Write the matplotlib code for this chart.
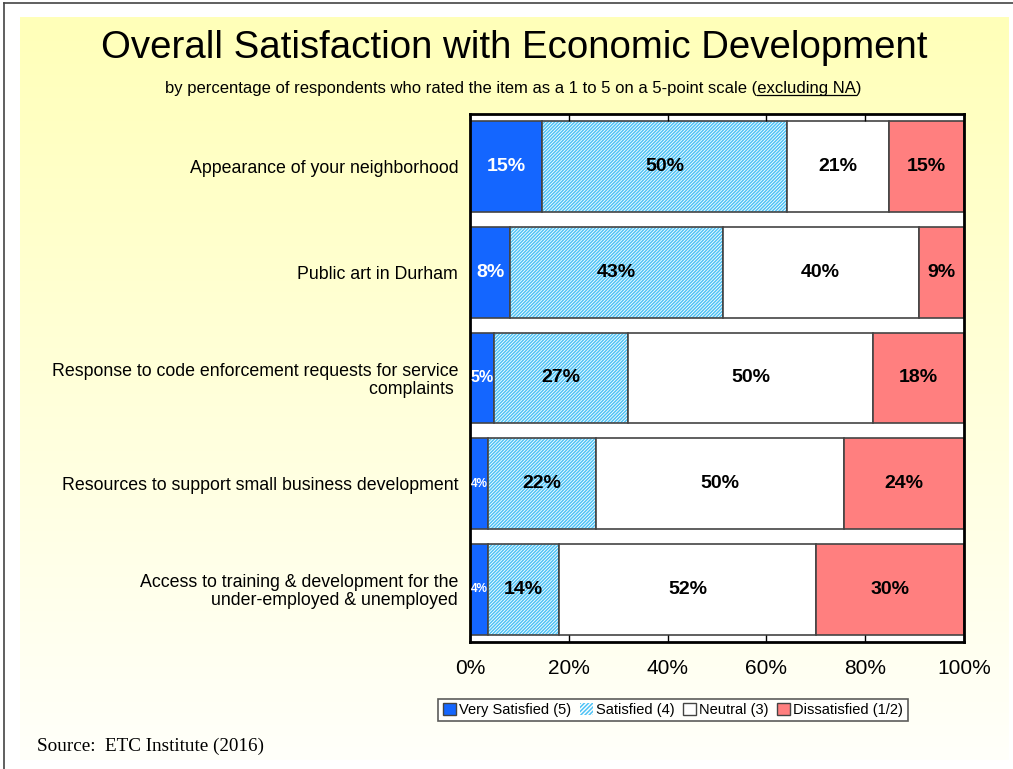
import numpy as np
import matplotlib
matplotlib.use("Agg")
import matplotlib.pyplot as plt
from matplotlib.patches import Rectangle

plt.rcParams['font.family'] = ['Liberation Sans', 'DejaVu Sans']
plt.rcParams['hatch.linewidth'] = 1.1

# data, top row first
items = [
    "Appearance of your neighborhood",
    "Public art in Durham",
    "Response to code enforcement requests for service\ncomplaints ",
    "Resources to support small business development",
    "Access to training & development for the\nunder-employed & unemployed",
]
very_satisfied = [14.6, 8.1, 4.9, 3.6, 3.6]
satisfied = [49.6, 43.1, 27.1, 22.0, 14.4]
neutral = [20.6, 39.6, 49.6, 50.1, 52.1]
dissatisfied = [15.2, 9.2, 18.4, 24.3, 29.9]
series_names = ["Very Satisfied (5)", "Satisfied (4)", "Neutral (3)", "Dissatisfied (1/2)"]
x_ticks = [0, 20, 40, 60, 80, 100]

W, H = 1013, 769
fig = plt.figure(figsize=(W / 100, H / 100), dpi=100)
fig.patch.set_facecolor("white")

# yellow gradient panel behind everything
bg = fig.add_axes([20 / W, 1 - 760 / H, 989 / W, 743 / H], zorder=-10)
grad = np.linspace(0, 1, 256)[:, None]
top = np.array([255, 255, 185]) / 255
bot = np.array([255, 255, 250]) / 255
img = top[None, None, :] * (1 - grad[:, :, None]) + bot[None, None, :] * grad[:, :, None]
bg.imshow(img, aspect="auto", extent=[0, 1, 0, 1])
bg.set_axis_off()

# outer frame lines
fig.add_artist(plt.Line2D([4 / W, 4 / W], [0, 1 - 3 / H], color="#444444", lw=1.2))
fig.add_artist(plt.Line2D([4 / W, 1], [1 - 3 / H, 1 - 3 / H], color="#444444", lw=1.2))

ax = fig.add_axes([470 / W, 1 - 642 / H, 494 / W, 528 / H])
ax.set_facecolor("white")

n = len(items)
y = np.arange(n)[::-1]
h = 0.86
edge = "#444444"
hatch_col = "#4FC3F5"

left = np.zeros(n)
vs = np.array(very_satisfied)
sa = np.array(satisfied)
ne = np.array(neutral)
di = np.array(dissatisfied)

ax.barh(y, vs, left=left, height=h, color="#1466FF", edgecolor=edge, lw=1.2)
left = left + vs
ax.barh(y, sa, left=left, height=h, color="white", edgecolor=hatch_col, hatch="/" * 10, lw=0)
ax.barh(y, sa, left=left, height=h, fill=False, edgecolor=edge, lw=1.2)
left = left + sa
ax.barh(y, ne, left=left, height=h, color="white", edgecolor=edge, lw=1.2)
left = left + ne
ax.barh(y, di, left=left, height=h, color="#FF7F7F", edgecolor=edge, lw=1.2)

# value labels
for i in range(n):
    start = 0
    for vals, col in [(vs, "white"), (sa, "black"), (ne, "black"), (di, "black")]:
        v = vals[i]
        fs = 14
        if col == "white" and v < 4.5:
            fs = 8.5
        elif col == "white" and v < 6:
            fs = 11.5
        ax.text(start + v / 2, y[i], f"{round(v)}%", ha="center", va="center",
                color=col, fontsize=fs, fontweight="bold")
        start += v

ax.set_xlim(0, 100)
ax.set_ylim(-0.5, n - 0.5)
ax.set_xticks(x_ticks)
ax.set_xticklabels([f"{t}%" for t in x_ticks], fontsize=15)
ax.tick_params(axis="x", direction="in", top=True, bottom=True, length=5,
               width=1, pad=12)
ax.set_yticks(y)
ax.set_yticklabels(items, fontsize=12.8, multialignment="right", linespacing=1.05)
ax.tick_params(axis="y", length=0, pad=8.5)
for s in ax.spines.values():
    s.set_linewidth(2)
    s.set_color("black")

# title and subtitle
fig.text(0.508, 1 - 48 / H, "Overall Satisfaction with Economic Development",
         ha="center", va="center", fontsize=27.6)
sub_fam = ["Liberation Sans Narrow", "Liberation Sans", "DejaVu Sans"]
sub_fs = 12
sub_pre = "by percentage of respondents who rated the item as a 1 to 5 on a 5-point scale ("
sub_u = "excluding NA"
sub_post = ")"
sub_y = 1 - 89 / H
full = fig.text(513 / W, sub_y, sub_pre + sub_u + sub_post, ha="center", va="center",
                fontsize=sub_fs, family=sub_fam)
fig.canvas.draw()
r = fig.canvas.get_renderer()
fb = full.get_window_extent(r)
tmp = fig.text(0, 0, sub_pre, fontsize=sub_fs, family=sub_fam)
pw = tmp.get_window_extent(r).width
tmp.set_text(sub_u)
uw = tmp.get_window_extent(r).width
tmp.remove()
ux0 = (fb.x0 + pw) / W
ux1 = (fb.x0 + pw + uw) / W
uy = (fb.y0 + 1.5) / H
fig.add_artist(plt.Line2D([ux0, ux1], [uy, uy], color="black", lw=0.9))

# legend
handles = [
    Rectangle((0, 0), 1, 1, facecolor="#1466FF", edgecolor=edge),
    Rectangle((0, 0), 1, 1, facecolor="white", edgecolor=hatch_col, hatch="/" * 8, lw=0),
    Rectangle((0, 0), 1, 1, facecolor="white", edgecolor=edge),
    Rectangle((0, 0), 1, 1, facecolor="#FF7F7F", edgecolor=edge),
]
leg = fig.legend(handles, series_names, loc="center", bbox_to_anchor=(673 / W, 1 - 710 / H),
                 ncol=4, fontsize=10.5, frameon=True, fancybox=False, handlelength=0.9,
                 handleheight=0.9, handletextpad=0.2, columnspacing=0.6, borderpad=0.3,
                 borderaxespad=0)
leg.get_frame().set_edgecolor("#333333")
leg.get_frame().set_linewidth(1.2)

fig.text(37 / W, 1 - 746 / H, "Source:  ETC Institute (2016)", ha="left", va="center",
         fontsize=13.8, family=["Liberation Serif", "DejaVu Serif"])

fig.savefig("out.png", dpi=100, facecolor=fig.get_facecolor())
